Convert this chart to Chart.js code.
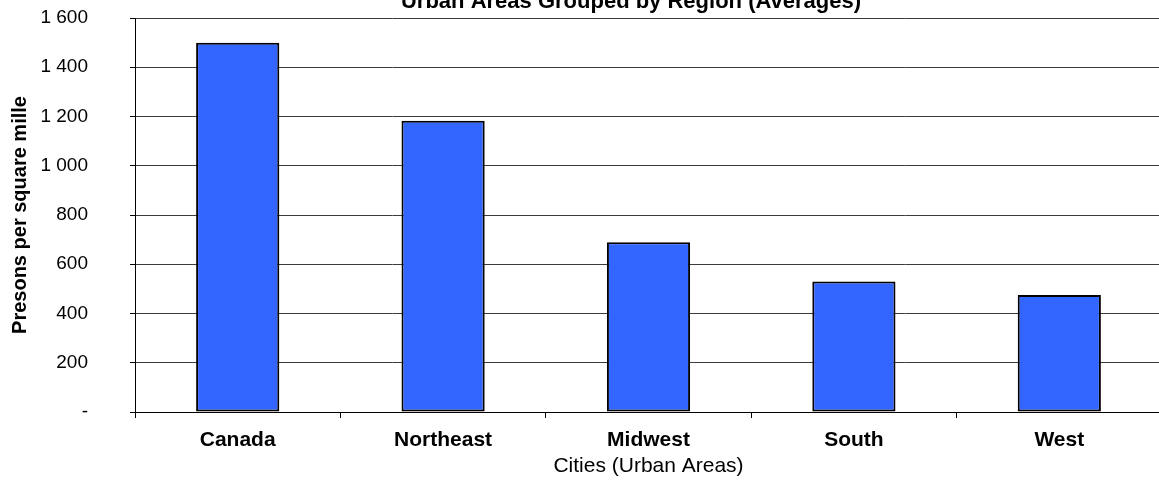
<!DOCTYPE html>
<html>
<head>
<meta charset="utf-8">
<title>Urban Areas Grouped by Region (Averages)</title>
<script src="https://cdn.jsdelivr.net/npm/chart.js@4/dist/chart.umd.min.js"></script>
<style>
  html, body { margin: 0; padding: 0; background: #fff; overflow: hidden; }
  #wrap { width: 1159px; height: 480px; overflow: hidden; }
</style>
</head>
<body>
<div id="wrap">
  <canvas id="density" width="1262" height="480"></canvas>
</div>
<script>
const regions = ['Canada', 'Northeast', 'Midwest', 'South', 'West'];
const density = [1500, 1183, 689, 530, 475];
const yMax = 1600;
const yStep = 200;

const chartTitle = 'Urban Areas Grouped by Region (Averages)';
const xTitle = 'Cities (Urban Areas)';
const yTitle = 'Presons per square mille';

const FONT = "'Liberation Sans', Arial, sans-serif";

// 1 600 style thousands, and a dash for zero
function formatTick(value) {
    if (value === 0) return '-';
    return String(value).replace(/\B(?=(\d{3})+(?!\d))/g, ' ');
}

// title sits half off the top edge, so it is drawn by hand
const topTitle = {
    id: 'topTitle',
    afterDraw(chart) {
        const c = chart.ctx;
        c.save();
        c.font = 'bold 22px ' + FONT;
        c.fillStyle = '#000';
        c.textAlign = 'center';
        c.textBaseline = 'alphabetic';
        c.fillText(chartTitle, chart.width / 2, 8);
        c.restore();
    }
};

const ctx = document.getElementById('density').getContext('2d');

new Chart(ctx, {
    type: 'bar',
    data: {
        labels: regions,
        datasets: [{
            data: density,
            backgroundColor: '#3366FF',
            borderColor: '#000000',
            borderWidth: 2,
            borderSkipped: false,
            categoryPercentage: 1,
            barPercentage: 0.405
        }]
    },
    plugins: [topTitle],
    options: {
        responsive: false,
        animation: false,
        layout: {
            padding: { left: 0, right: 100, top: 18, bottom: 0 }
        },
        plugins: {
            legend: { display: false },
            tooltip: { enabled: false },
            title: { display: false }
        },
        scales: {
            x: {
                grid: {
                    display: true,
                    drawOnChartArea: false,
                    drawTicks: true,
                    tickLength: 6,
                    tickColor: '#000',
                    offset: true
                },
                border: { color: '#000', width: 1 },
                ticks: {
                    color: '#000',
                    padding: 10,
                    font: { family: FONT, size: 21, weight: 'bold' }
                },
                title: {
                    display: true,
                    text: xTitle,
                    color: '#000',
                    font: { family: FONT, size: 21 },
                    padding: { top: 0, bottom: 1 }
                },
                afterFit: function(scale) {
                    scale.height = 68;
                }
            },
            y: {
                min: 0,
                max: yMax,
                grid: {
                    color: '#3c3c3c',
                    lineWidth: 1,
                    drawTicks: true,
                    tickLength: 5,
                    tickColor: '#000'
                },
                border: { color: '#000', width: 1 },
                ticks: {
                    stepSize: yStep,
                    color: '#000',
                    padding: 42,
                    font: { family: FONT, size: 19 },
                    callback: formatTick
                },
                title: {
                    display: true,
                    text: yTitle,
                    color: '#000',
                    font: { family: FONT, size: 20, weight: 'bold' },
                    padding: { top: 8, bottom: 0 }
                },
                afterFit: function(scale) {
                    // the wide label gap should not push the plot down
                    scale.width = 135;
                    scale.paddingTop = 11;
                    scale.paddingBottom = 11;
                }
            }
        }
    }
});
</script>
</body>
</html>
